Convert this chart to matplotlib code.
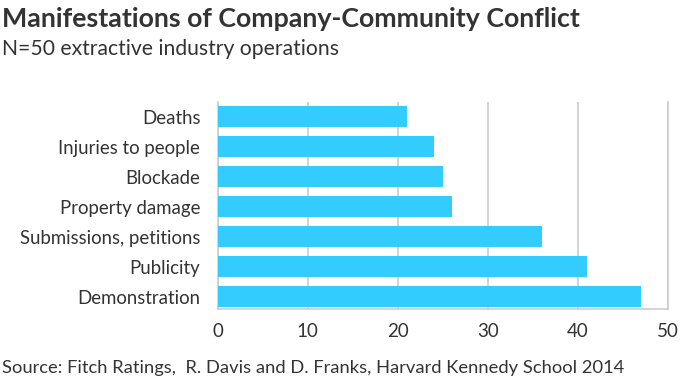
import numpy as np
import matplotlib
matplotlib.use('Agg')
import matplotlib.pyplot as plt

categories = ['Demonstration', 'Publicity', 'Submissions, petitions',
              'Property damage', 'Blockade', 'Injuries to people', 'Deaths']
counts = [47, 41, 36, 26, 25, 24, 21]
xticks = [0, 10, 20, 30, 40, 50]

plt.rcParams['font.family'] = ['Lato', 'DejaVu Sans']

fig = plt.figure(figsize=(7, 3.79), dpi=100)
ax = fig.add_axes([0.311, 0.185, 0.643, 0.546])

y = np.arange(len(categories))
ax.barh(y, counts, height=0.7, color='#33ccff', zorder=3)

ax.set_xlim(0, 50)
ax.set_ylim(-0.4, 6.5)
ax.set_yticks(y)
ax.set_yticklabels(categories, fontsize=13.4, color='#333333')
ax.set_xticks(xticks)
ax.set_xticklabels([str(t) for t in xticks], fontsize=13.5, color='#333333')
ax.tick_params(axis='both', length=0)
ax.tick_params(axis='y', pad=12.5)
ax.tick_params(axis='x', pad=10)

ax.grid(axis='x', color='#cccccc', linewidth=1.2, zorder=0)
ax.spines['top'].set_visible(False)
for s in ['left', 'right', 'bottom']:
    ax.spines[s].set_color('#cccccc')
    ax.spines[s].set_linewidth(1.2)

fig.text(0.003, 0.93, 'Manifestations of Company-Community Conflict',
         fontsize=19.3, fontweight='bold', color='#333333', va='baseline')
fig.text(0.003, 0.855, 'N=50 extractive industry operations',
         fontsize=15.2, color='#333333', va='baseline')
fig.text(0.003, 0.017, 'Source: Fitch Ratings,  R. Davis and D. Franks, Harvard Kennedy School 2014',
         fontsize=13.25, color='#333333', va='baseline')

fig.savefig('out.png', dpi=100)
